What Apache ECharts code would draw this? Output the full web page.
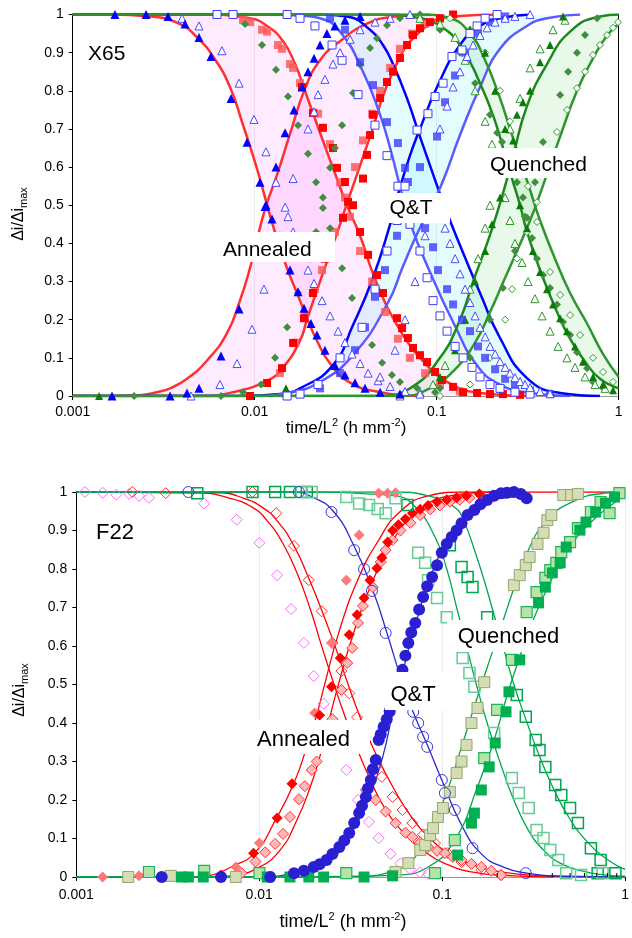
<!DOCTYPE html>
<html>
<head>
<meta charset="utf-8">
<script src="https://cdn.jsdelivr.net/npm/echarts@6/dist/echarts.min.js"></script>
<style>
  html, body { margin: 0; padding: 0; background: #ffffff; }
  #chart { width: 632px; height: 938px; }
</style>
</head>
<body>
<div id="chart"></div>
<script>
// All series points are [log10(time/L^2), Δi/Δimax]; they are mapped onto log axes below.

const tickLabels = ['0.001', '0.01', '0.1', '1'];
const f22MinorTicks = [0.2, 0.3, 0.4, 0.5, 0.6, 0.7, 0.8, 0.9];

// ---------- X65 : fitted transients ----------
const x65AnnealedDecayFast = [[-3,1],[-2.795,1],[-2.575,0.995],[-2.41,0.975],[-2.317,0.94],[-2.229,0.89],[-2.136,0.81],[-2.064,0.71],[-2.026,0.655],[-1.987,0.595],[-1.943,0.52],[-1.905,0.455],[-1.861,0.39],[-1.822,0.335],[-1.751,0.25],[-1.713,0.205],[-1.663,0.15],[-1.586,0.085],[-1.476,0.035],[-1.311,0.01],[-1.092,0]];
const x65AnnealedDecaySlow = [[-3,1],[-2.301,1],[-2.026,0.99],[-1.932,0.97],[-1.844,0.93],[-1.778,0.87],[-1.724,0.8],[-1.641,0.69],[-1.564,0.59],[-1.493,0.5],[-1.421,0.42],[-1.35,0.32],[-1.284,0.245],[-1.218,0.186],[-1.158,0.14],[-1.092,0.1],[-0.943,0.037],[-0.762,0.008],[-0.487,0]];
const x65AnnealedRiseFast = [[-3,0],[-2.795,0],[-2.63,0.002],[-2.537,0.01],[-2.465,0.02],[-2.372,0.045],[-2.262,0.093],[-2.152,0.165],[-2.081,0.25],[-2.026,0.335],[-1.987,0.41],[-1.943,0.49],[-1.877,0.58],[-1.806,0.687],[-1.724,0.805],[-1.641,0.88],[-1.531,0.93],[-1.383,0.976],[-1.24,0.994],[-1.037,1]];
const x65AnnealedRiseSlow = [[-3,0],[-2.301,0],[-2.119,0.01],[-1.932,0.04],[-1.844,0.075],[-1.751,0.145],[-1.713,0.2],[-1.658,0.277],[-1.586,0.375],[-1.531,0.45],[-1.493,0.505],[-1.46,0.55],[-1.366,0.68],[-1.24,0.85],[-1.092,0.955],[-0.91,0.995],[-0.652,1]];

const x65QTDecayFast = [[-3,1],[-1.916,1],[-1.751,0.997],[-1.641,0.99],[-1.531,0.955],[-1.405,0.85],[-1.311,0.737],[-1.256,0.65],[-1.202,0.55],[-1.147,0.455],[-1.037,0.325],[-0.91,0.194],[-0.778,0.08],[-0.652,0.03],[-0.487,0.008],[-0.267,0]];
const x65QTDecaySlow = [[-3,1],[-1.641,1],[-1.493,0.995],[-1.366,0.96],[-1.295,0.92],[-1.24,0.87],[-1.163,0.78],[-1.092,0.68],[-0.982,0.53],[-0.927,0.46],[-0.833,0.35],[-0.762,0.27],[-0.652,0.152],[-0.504,0.047],[-0.322,0.008],[-0.103,0]];
const x65QTRiseFast = [[-3,0],[-2.081,0],[-1.861,0.005],[-1.751,0.02],[-1.57,0.081],[-1.46,0.186],[-1.35,0.31],[-1.256,0.45],[-1.218,0.52],[-1.147,0.63],[-1.092,0.7],[-0.998,0.81],[-0.872,0.92],[-0.762,0.97],[-0.652,0.99],[-0.487,1]];
const x65QTRiseSlow = [[-3,0],[-2.026,0],[-1.806,0.01],[-1.641,0.037],[-1.46,0.107],[-1.273,0.24],[-1.185,0.34],[-1.103,0.43],[-1.026,0.5],[-0.96,0.57],[-0.872,0.684],[-0.762,0.81],[-0.652,0.91],[-0.504,0.97],[-0.394,0.99],[-0.212,1]];

const x65QuenchedDecayFast = [[-3,1],[-1.311,1],[-1.092,0.99],[-0.982,0.97],[-0.872,0.92],[-0.762,0.82],[-0.679,0.72],[-0.624,0.63],[-0.58,0.56],[-0.542,0.5],[-0.504,0.43],[-0.432,0.33],[-0.339,0.22],[-0.267,0.15],[-0.185,0.09],[-0.103,0.045],[0,0.02]];
const x65QuenchedDecaySlow = [[-3,1],[-1.092,1],[-0.927,0.99],[-0.817,0.95],[-0.734,0.88],[-0.652,0.78],[-0.597,0.7],[-0.542,0.62],[-0.487,0.54],[-0.432,0.46],[-0.35,0.36],[-0.267,0.27],[-0.174,0.19],[-0.086,0.11],[0,0.05]];
const x65QuenchedRiseFast = [[-3,0],[-1.311,0],[-1.147,0.02],[-0.982,0.1],[-0.872,0.2],[-0.8,0.3],[-0.723,0.4],[-0.668,0.48],[-0.613,0.57],[-0.58,0.63],[-0.504,0.76],[-0.394,0.87],[-0.267,0.955],[-0.103,0.995],[0,1]];
const x65QuenchedRiseSlow = [[-3,0],[-1.202,0],[-1.037,0.02],[-0.899,0.07],[-0.789,0.14],[-0.707,0.22],[-0.624,0.31],[-0.559,0.38],[-0.487,0.46],[-0.432,0.53],[-0.377,0.605],[-0.322,0.68],[-0.229,0.8],[-0.141,0.885],[-0.064,0.945],[0,0.975]];

// ---------- X65 : measured transients ----------
const x65RedSquares = [[-1.74,0.81],[-1.68,0.742],[-1.625,0.703],[-1.57,0.65],[-1.548,0.598],[-1.504,0.561],[-1.487,0.509],[-1.421,0.43],[-1.377,0.37],[-1.328,0.317],[-1.295,0.27],[-1.218,0.204],[-1.19,0.178],[-1.158,0.152],[-1.13,0.126],[-1.092,0.107],[-1.053,0.089],[-1.009,0.063],[-0.971,0.042],[-0.91,0.024],[-0.855,0.01],[-0.778,0.008],[-0.707,0.005],[-0.636,0.005],[-0.542,0.003],
  [-2.026,0],[-1.932,0.034],[-1.85,0.073],[-1.789,0.139],[-1.729,0.204],[-1.68,0.27],[-1.614,0.36],[-1.515,0.467],[-1.46,0.5],[-1.405,0.57],[-1.383,0.632],[-1.366,0.684],[-1.35,0.737],[-1.311,0.781],[-1.273,0.823],[-1.24,0.85],[-1.202,0.886],[-1.163,0.92],[-1.13,0.946],[-1.092,0.964],[-1.037,0.98],[-0.982,0.99],[-0.91,1]];
const x65LightRedSquares = [[-2.064,0.985],[-2.026,0.98],[-1.96,0.96],[-1.932,0.955],[-1.872,0.92],[-1.85,0.91],[-1.806,0.87],[-1.789,0.86],[-1.751,0.82],[-1.652,0.74],[-1.586,0.66],[-1.531,0.56],[-1.476,0.47],[-1.421,0.38],[-1.355,0.3],[-1.284,0.22],[-1.213,0.15],[-1.147,0.1],[-1.064,0.06],[-0.982,0.03],[-0.872,0.012],[-0.707,0.005],
  [-1.861,0.06],[-1.778,0.14],[-1.724,0.21],[-1.669,0.28],[-1.63,0.33],[-1.559,0.43],[-1.504,0.52],[-1.449,0.6],[-1.405,0.67],[-1.355,0.74],[-1.311,0.8],[-1.256,0.86],[-1.202,0.91],[-1.136,0.95],[-1.064,0.975],[-0.982,0.99]];
const x65BlueTriangles = [[-2.768,1],[-2.597,1],[-2.476,0.995],[-2.383,0.975],[-2.306,0.94],[-2.24,0.89],[-2.13,0.78],[-2.042,0.665],[-1.971,0.56],[-1.938,0.5],[-1.905,0.464],[-1.806,0.33],[-1.762,0.273],[-1.729,0.23],[-1.691,0.19],[-1.658,0.16],[-1.614,0.12],[-1.559,0.08],[-1.504,0.055],[-1.449,0.035],[-1.394,0.02],[-1.311,0.01],[-1.202,0.005],
  [-2.784,0],[-2.465,0],[-2.372,0.008],[-2.306,0.02],[-2.185,0.105],[-2.086,0.228],[-1.943,0.497],[-1.883,0.6],[-1.833,0.69],[-1.784,0.75],[-1.74,0.81],[-1.707,0.85],[-1.674,0.885],[-1.641,0.92],[-1.603,0.95],[-1.559,0.97],[-1.504,0.985],[-1.421,0.995]];
const x65BlueOpenTriangles = [[-2.399,0.99],[-2.306,0.97],[-2.18,0.905],[-2.086,0.82],[-2.004,0.725],[-1.938,0.64],[-1.883,0.56],[-1.833,0.495],[-1.817,0.47],[-1.789,0.43],[-1.751,0.37],[-1.707,0.33],[-1.674,0.295],[-1.63,0.25],[-1.586,0.21],[-1.542,0.17],[-1.504,0.14],[-1.465,0.11],[-1.421,0.085],[-1.377,0.06],[-1.322,0.04],[-1.256,0.025],[-1.174,0.012],[-1.092,0.005],
  [-2.35,0],[-2.191,0.03],[-2.097,0.085],[-2.015,0.175],[-1.949,0.28],[-1.861,0.42],[-1.789,0.57],[-1.707,0.7],[-1.674,0.745],[-1.652,0.79],[-1.614,0.83],[-1.57,0.87],[-1.531,0.9],[-1.476,0.935],[-1.421,0.96],[-1.339,0.98],[-1.256,0.99],[-1.147,1],
  [-0.982,0.5],[-0.954,0.44],[-0.927,0.4],[-0.899,0.36],[-0.872,0.32],[-0.844,0.28],[-0.817,0.245],[-0.789,0.21],[-0.762,0.18],[-0.734,0.155],[-0.707,0.13],[-0.679,0.11],[-0.652,0.09],[-0.624,0.075],[-0.597,0.06],[-0.57,0.048],[-0.542,0.038],[-0.515,0.03],[-0.487,0.022],[-0.432,0.012],[-0.377,0.006],
  [-1.311,0.05],[-1.229,0.12],[-1.174,0.2],[-1.119,0.3],[-1.064,0.42],[-1.026,0.52],[-0.982,0.7],[-0.943,0.76],[-0.91,0.81],[-0.872,0.85],[-0.833,0.89],[-0.8,0.92],[-0.762,0.945],[-0.723,0.965],[-0.679,0.98],[-0.624,0.99],[-0.57,0.995],[-0.487,1]];
const x65BlueOpenSquares = [[-2.207,1],[-2.119,1],[-1.822,1],[-1.751,0.99],[-1.669,0.97],[-1.575,0.92],[-1.52,0.88],[-1.432,0.79],[-1.339,0.71],[-1.273,0.63],[-1.213,0.55],[-1.147,0.45],[-1.092,0.38],[-1.053,0.31],[-1.02,0.25],[-0.982,0.21],[-0.943,0.17],[-0.899,0.13],[-0.855,0.1],[-0.806,0.075],[-0.762,0.05],[-0.707,0.03],[-0.652,0.02],[-0.57,0.01],[-0.487,0.005],
  [-1.822,0],[-1.751,0.005],[-1.652,0.03],[-1.531,0.1],[-1.41,0.18],[-1.339,0.28],[-1.273,0.38],[-1.218,0.46],[-1.174,0.55],[-1.108,0.697],[-1.048,0.74],[-1.009,0.785],[-0.965,0.82],[-0.916,0.89],[-0.861,0.907],[-0.817,0.95],[-0.778,0.97],[-0.734,0.99],[-0.668,1]];
const x65BlueSquares = [[-1.586,0.99],[-1.504,0.96],[-1.421,0.875],[-1.35,0.815],[-1.273,0.718],[-1.213,0.663],[-1.174,0.598],[-1.158,0.561],[-1.064,0.44],[-1.02,0.39],[-0.993,0.33],[-0.943,0.28],[-0.91,0.24],[-0.861,0.2],[-0.817,0.17],[-0.773,0.13],[-0.734,0.1],[-0.679,0.07],[-0.624,0.045],[-0.57,0.03],[-0.487,0.015],[-0.377,0.005],
  [-1.751,0.005],[-1.641,0.02],[-1.531,0.06],[-1.449,0.12],[-1.394,0.18],[-1.339,0.26],[-1.284,0.33],[-1.218,0.42],[-1.147,0.52],[-1.092,0.6],[-0.998,0.68],[-0.954,0.77],[-0.899,0.84],[-0.844,0.9],[-0.773,0.95],[-0.707,0.98],[-0.624,0.995]];
const x65GreenDiamonds = [[-2.053,0.975],[-1.96,0.92],[-1.883,0.855],[-1.817,0.785],[-1.762,0.71],[-1.707,0.635],[-1.663,0.56],[-1.625,0.493],[-1.586,0.44],[-1.52,0.335],[-1.465,0.257],[-1.405,0.18],[-1.355,0.134],[-1.3,0.087],[-1.246,0.055],[-1.202,0.037],[-1.108,0.021],[-1.009,0.01],
  [-2.663,0],[-2.185,0],[-2.064,0.01],[-1.965,0.03],[-1.888,0.1],[-1.822,0.18],[-1.762,0.27],[-1.696,0.36],[-1.663,0.43],[-1.625,0.52],[-1.586,0.598],[-1.559,0.65],[-1.52,0.71],[-1.46,0.794],[-1.421,0.868],[-1.366,0.912],[-1.328,0.938],[-1.273,0.972],[-1.202,0.99],[-1.092,1],
  [-1.092,0.99],[-0.982,0.96],[-0.872,0.9],[-0.789,0.82],[-0.707,0.737],[-0.668,0.69],[-0.641,0.666],[-0.559,0.56],[-0.526,0.52],[-0.504,0.467],[-0.476,0.414],[-0.449,0.36],[-0.416,0.317],[-0.377,0.283],[-0.339,0.24],[-0.306,0.194],[-0.267,0.16],[-0.229,0.115],[-0.174,0.073],[-0.141,0.037],[-0.086,0.021],
  [-0.982,0.02],[-0.817,0.1],[-0.707,0.2],[-0.636,0.283],[-0.57,0.38],[-0.515,0.47],[-0.46,0.56],[-0.416,0.666],[-0.322,0.789],[-0.278,0.85],[-0.229,0.9],[-0.185,0.946],[-0.119,0.99]];
const x65GreenOpenDiamonds = [[-0.982,0],[-0.817,0.03],[-0.707,0.1],[-0.624,0.2],[-0.586,0.28],[-0.559,0.36],[-0.504,0.43],[-0.449,0.508],[-0.394,0.6],[-0.339,0.692],[-0.284,0.75],[-0.229,0.807],[-0.185,0.85],[-0.141,0.894],[-0.103,0.92],[-0.064,0.946],[-0.031,0.965],[-0.004,0.98],
  [-0.927,0.99],[-0.817,0.96],[-0.734,0.9],[-0.652,0.8],[-0.597,0.72],[-0.542,0.63],[-0.498,0.55],[-0.449,0.456],[-0.377,0.325],[-0.322,0.265],[-0.267,0.212],[-0.212,0.16],[-0.141,0.1],[-0.086,0.063],[-0.031,0.037]];
const x65GreenOpenTriangles = [[-1.092,0.99],[-0.982,0.975],[-0.899,0.94],[-0.844,0.88],[-0.789,0.8],[-0.734,0.72],[-0.696,0.66],[-0.652,0.6],[-0.624,0.52],[-0.597,0.46],[-0.57,0.4],[-0.531,0.35],[-0.498,0.3],[-0.46,0.255],[-0.421,0.21],[-0.377,0.17],[-0.333,0.13],[-0.284,0.1],[-0.24,0.075],[-0.185,0.05],[-0.13,0.03],[-0.075,0.02],
  [-1.202,0],[-1.092,0.01],[-1.02,0.03],[-0.954,0.08],[-0.899,0.13],[-0.861,0.2],[-0.817,0.28],[-0.773,0.36],[-0.734,0.44],[-0.707,0.5],[-0.652,0.6],[-0.597,0.7],[-0.542,0.78],[-0.487,0.86],[-0.432,0.91],[-0.361,0.96],[-0.295,0.985]];
const x65GreenTriangles = [[-2.855,0],[-1.828,0.02],[-0.982,0.05],[-0.899,0.12],[-0.844,0.2],[-0.789,0.3],[-0.734,0.38],[-0.696,0.45],[-0.652,0.52],[-0.608,0.6],[-0.58,0.67],[-0.559,0.737],[-0.526,0.77],[-0.487,0.8],[-0.432,0.875],[-0.377,0.92],[-0.306,0.995],
  [-0.817,0.96],[-0.734,0.9],[-0.679,0.8],[-0.624,0.7],[-0.586,0.6],[-0.542,0.5],[-0.504,0.44],[-0.471,0.38],[-0.432,0.325],[-0.394,0.28],[-0.361,0.24],[-0.322,0.204],[-0.284,0.17],[-0.24,0.13],[-0.196,0.09],[-0.141,0.05],[-0.086,0.03],[-0.031,0.015]];

// ---------- F22 : fitted transients ----------
const f22AnnealedDecayFast = [[-3,1],[-2.333,0.998],[-2.171,0.985],[-2.037,0.96],[-1.956,0.925],[-1.875,0.87],[-1.794,0.79],[-1.724,0.7],[-1.659,0.6],[-1.605,0.52],[-1.541,0.43],[-1.471,0.34],[-1.39,0.25],[-1.309,0.175],[-1.201,0.11],[-1.093,0.065],[-0.985,0.035],[-0.824,0.012],[-0.608,0.003],[-0.392,0]];
const f22AnnealedDecaySlow = [[-3,1],[-2.225,0.998],[-2.091,0.985],[-1.983,0.96],[-1.902,0.925],[-1.81,0.86],[-1.724,0.77],[-1.648,0.68],[-1.578,0.59],[-1.514,0.5],[-1.444,0.41],[-1.363,0.32],[-1.271,0.235],[-1.174,0.16],[-1.066,0.1],[-0.958,0.06],[-0.824,0.03],[-0.662,0.012],[-0.446,0.003],[-0.177,0]];
const f22AnnealedRiseFast = [[-3,0],[-2.387,0],[-2.263,0.005],[-2.155,0.026],[-2.026,0.062],[-1.902,0.156],[-1.81,0.244],[-1.74,0.338],[-1.686,0.42],[-1.648,0.49],[-1.562,0.64],[-1.454,0.78],[-1.347,0.875],[-1.239,0.945],[-1.077,0.99],[-0.878,1],[0,1]];
const f22AnnealedRiseSlow = [[-3,0],[-2.279,0],[-2.155,0.003],[-2.01,0.023],[-1.886,0.07],[-1.794,0.148],[-1.724,0.23],[-1.67,0.31],[-1.622,0.4],[-1.573,0.49],[-1.487,0.63],[-1.379,0.77],[-1.255,0.885],[-1.12,0.955],[-0.958,0.99],[-0.716,1]];
const f22QTDecay = [[-3,1],[-1.81,1],[-1.702,0.985],[-1.595,0.95],[-1.487,0.865],[-1.379,0.745],[-1.293,0.62],[-1.228,0.52],[-1.163,0.434],[-1.077,0.338],[-1.002,0.252],[-0.894,0.135],[-0.786,0.06],[-0.662,0.025],[-0.538,0.01],[-0.338,0.002],[0,0]];
const f22QTRise = [[-3,0],[-2.01,0],[-1.81,0.01],[-1.632,0.036],[-1.487,0.122],[-1.4,0.208],[-1.325,0.312],[-1.271,0.426],[-1.217,0.53],[-1.147,0.655],[-1.039,0.81],[-0.931,0.9],[-0.807,0.96],[-0.662,0.985],[-0.527,0.99]];
const f22QuenchedDecayFast = [[-3,1],[-1.632,1],[-1.417,0.995],[-1.255,0.99],[-1.147,0.961],[-1.039,0.883],[-0.975,0.8],[-0.921,0.7],[-0.867,0.6],[-0.813,0.5],[-0.754,0.4],[-0.678,0.29],[-0.608,0.2],[-0.527,0.12],[-0.446,0.07],[-0.355,0.036],[-0.231,0.015],[-0.107,0.005],[0,0.002]];
const f22QuenchedDecaySlow = [[-3,1],[-1.255,1],[-1.077,0.99],[-0.931,0.96],[-0.878,0.92],[-0.824,0.85],[-0.77,0.77],[-0.716,0.68],[-0.662,0.59],[-0.608,0.5],[-0.543,0.41],[-0.473,0.32],[-0.392,0.23],[-0.301,0.15],[-0.204,0.09],[-0.096,0.045],[0,0.02]];
const f22QuenchedRiseFast = [[-3,0],[-1.794,0],[-1.471,0.002],[-1.255,0.018],[-1.109,0.078],[-0.985,0.208],[-0.894,0.338],[-0.807,0.468],[-0.743,0.56],[-0.678,0.65],[-0.608,0.75],[-0.538,0.84],[-0.43,0.925],[-0.285,0.975],[-0.107,0.997],[0,1]];
const f22QuenchedRiseSlow = [[-3,0],[-1.632,0],[-1.255,0.005],[-1.077,0.026],[-0.931,0.096],[-0.807,0.234],[-0.716,0.356],[-0.646,0.47],[-0.57,0.58],[-0.5,0.67],[-0.43,0.745],[-0.322,0.842],[-0.193,0.919],[-0.015,0.987],[0,0.99]];

// ---------- F22 : measured transients ----------
const f22PinkOpenDiamonds = [[-2.953,1],[-2.856,0.998],[-2.781,0.993],[-2.711,0.995],[-2.657,0.99],[-2.603,0.985],[-2.301,0.97],[-2.123,0.928],[-1.999,0.868],[-1.902,0.784],[-1.826,0.696],[-1.756,0.608],[-1.702,0.522],[-1.648,0.45],[-1.589,0.36],[-1.524,0.278],[-1.46,0.2],[-1.4,0.143],[-1.347,0.101],[-1.282,0.06],[-1.228,0.035],[-1.174,0.02],[-1.12,0.012],[-1.077,0.008]];
const f22SalmonDiamonds = [[-2.856,0],[-2.657,0.003],[-2.128,0.026],[-1.999,0.088],[-1.697,0.426],[-1.605,0.608],[-1.524,0.771],[-1.454,0.888],[-1.347,0.997],[-1.298,0.997],[-1.255,0.998]];
const f22RedDiamonds = [[-2.209,0.005],[-2.031,0.062],[-1.902,0.153],[-1.821,0.242],[-1.67,0.42],[-1.605,0.494],[-1.557,0.569],[-1.508,0.629],[-1.465,0.681],[-1.427,0.725],[-1.395,0.771],[-1.357,0.802],[-1.33,0.829],[-1.298,0.87],[-1.271,0.9],[-1.239,0.915],[-1.201,0.93],[-1.163,0.945],[-1.12,0.955],[-1.077,0.965],[-1.028,0.975],[-0.975,0.98],[-0.921,0.985],[-0.867,0.99],[-0.797,0.995]];
const f22RedOpenDiamonds = [[-2.694,1],[-2.511,0.997],[-2.037,1],[-1.907,0.945],[-1.81,0.86],[-1.729,0.771],[-1.659,0.69],[-1.6,0.608],[-1.551,0.535],[-1.508,0.477],[-1.465,0.415],[-1.363,0.286],[-1.33,0.26],[-1.271,0.208],[-1.217,0.174],[-1.163,0.14],[-1.104,0.11],[-1.039,0.088],[-0.969,0.062],[-0.894,0.039],[-0.786,0.018],[-0.678,0.005]];
const f22RedHatchedDiamonds = [[-2.096,0.01],[-2.02,0.04],[-1.967,0.064],[-1.913,0.086],[-1.87,0.112],[-1.832,0.156],[-1.783,0.202],[-1.751,0.236],[-1.713,0.278],[-1.686,0.3],[-1.6,0.41],[-1.551,0.486],[-1.519,0.556],[-1.492,0.595],[-1.46,0.66],[-1.433,0.704],[-1.379,0.753],[-1.336,0.818],[-1.309,0.849],[-1.271,0.875],[-1.228,0.9],[-1.174,0.92],[-1.12,0.94],[-1.066,0.955],[-1.012,0.965],[-0.958,0.975],[-0.904,0.98],[-0.851,0.985],[-0.786,0.99],
  [-1.417,0.226],[-1.363,0.2],[-1.309,0.17],[-1.255,0.14],[-1.201,0.115],[-1.163,0.104],[-1.12,0.09],[-1.077,0.078],[-1.028,0.068],[-0.985,0.062],[-0.942,0.052],[-0.894,0.044],[-0.84,0.034],[-0.786,0.026],[-0.732,0.016],[-0.678,0.005]];
const f22BlueCircles = [[-2.533,0],[-2.209,0],[-1.94,0],[-1.81,0.01],[-1.756,0.016],[-1.702,0.026],[-1.67,0.033],[-1.632,0.044],[-1.6,0.06],[-1.562,0.078],[-1.535,0.095],[-1.508,0.114],[-1.481,0.14],[-1.454,0.166],[-1.438,0.185],[-1.417,0.208],[-1.406,0.23],[-1.39,0.252],[-1.379,0.28],[-1.363,0.304],[-1.347,0.356],[-1.336,0.37],[-1.32,0.39],[-1.303,0.41],[-1.287,0.43],[-1.217,0.538],[-1.201,0.575],[-1.185,0.608],[-1.169,0.635],[-1.147,0.66],[-1.126,0.695],[-1.104,0.727],[-1.082,0.755],[-1.055,0.779],[-1.028,0.81],[-1.002,0.842],[-0.975,0.865],[-0.948,0.883],[-0.921,0.9],[-0.894,0.919],[-0.861,0.94],[-0.824,0.953],[-0.791,0.968],[-0.754,0.979],[-0.716,0.99],[-0.678,0.997],[-0.646,0.998],[-0.608,1],[-0.57,0.995],[-0.538,0.984]];
const f22BlueOpenCircles = [[-2.387,1],[-1.783,1],[-1.605,0.948],[-1.481,0.849],[-1.427,0.8],[-1.384,0.743],[-1.309,0.634],[-1.158,0.429],[-1.131,0.4],[-1.104,0.364],[-1.082,0.338],[-1.002,0.252],[-0.985,0.218],[-0.931,0.174],[-0.834,0.075],[-0.543,0.01]];
const f22GreenOpenSquares = [[-2.339,0.997],[-2.037,1],[-1.913,1],[-1.832,1],[-1.74,1],[-1.19,0.966],[-0.958,0.862],[-0.894,0.805],[-0.861,0.779],[-0.834,0.753],[-0.754,0.675],[-0.592,0.473],[-0.543,0.416],[-0.489,0.356],[-0.468,0.33],[-0.436,0.286],[-0.382,0.239],[-0.349,0.213],[-0.301,0.179],[-0.258,0.14],[-0.187,0.075],[-0.134,0.044],[-0.15,0.01],[-0.053,0.01]];
const f22LightGreenOpenSquares = [[-1.767,1],[-1.713,1],[-1.524,0.987],[-1.454,0.97],[-1.4,0.966],[-1.352,0.956],[-1.309,0.945],[-1.255,0.984],[-1.131,0.842],[-1.093,0.816],[-1.077,0.771],[-1.028,0.725],[-0.975,0.675],[-0.888,0.569],[-0.851,0.53],[-0.824,0.494],[-0.716,0.374],[-0.619,0.257],[-0.581,0.218],[-0.527,0.179],[-0.484,0.122],[-0.446,0.101],[-0.409,0.07],[-0.365,0.044],[-0.322,0.01],[-0.241,0.005],[-0.123,0.01]];
const f22OliveSquares = [[-2.716,0],[-2.484,0.003],[-2.128,0],[-1.255,0.013],[-1.185,0.036],[-1.12,0.07],[-1.093,0.083],[-1.066,0.109],[-1.05,0.127],[-1.023,0.156],[-0.996,0.179],[-0.958,0.221],[-0.921,0.27],[-0.894,0.3],[-0.867,0.343],[-0.84,0.4],[-0.807,0.439],[-0.77,0.506],[-0.608,0.758],[-0.576,0.784],[-0.543,0.81],[-0.522,0.831],[-0.479,0.865],[-0.446,0.894],[-0.425,0.927],[-0.403,0.94],[-0.338,0.992],[-0.295,0.992],[-0.258,0.995]];
const f22GreenHatchedSquares = [[-2.603,0.013],[-2.301,0.016],[-1.999,0.01],[-1.524,0.01],[-1.039,0.01],[-0.931,0.096],[-0.77,0.309],[-0.7,0.434],[-0.619,0.564],[-0.538,0.688],[-0.484,0.74],[-0.436,0.777],[-0.409,0.797],[-0.376,0.816],[-0.349,0.844],[-0.301,0.87],[-0.258,0.906],[-0.187,0.948],[-0.134,0.974],[-0.085,0.945],[-0.031,0.997]];
const f22GreenSquares = [[-2.425,0],[-2.387,0],[-2.306,0],[-1.956,0],[-1.832,0],[-1.729,0],[-1.648,0],[-1.427,0],[-1.271,0.003],[-0.915,0.057],[-0.84,0.14],[-0.824,0.166],[-0.786,0.226],[-0.743,0.286],[-0.71,0.348],[-0.651,0.429],[-0.635,0.481],[-0.576,0.564],[-0.473,0.712],[-0.436,0.753],[-0.398,0.79],[-0.355,0.816],[-0.322,0.857],[-0.247,0.901],[-0.214,0.922],[-0.161,0.948],[-0.107,0.971],[-0.058,0.987]];

// ---------- rendering ----------
const FONT = "'Liberation Sans', Arial, Helvetica, sans-serif";
const toTime = arr => arr.map(p => [Math.pow(10, p[0]), p[1]]);

const TOP = { x: 0, y: 0 };      // axis indices of the X65 panel
const BOT = { x: 2, y: 2 };      // axis indices of the F22 panel

function curve(panel, pts, color, width) {
  return {
    type: 'line', xAxisIndex: panel.x, yAxisIndex: panel.y,
    data: toTime(pts), showSymbol: false, smooth: 0.5,
    lineStyle: { color: color, width: width }, silent: true, z: 3
  };
}

function band(panel, a, b, color) {
  const pa = toTime(a), pb = toTime(b).reverse();
  return {
    type: 'custom', xAxisIndex: panel.x, yAxisIndex: panel.y,
    data: [pa[0]], silent: true, clip: true, z: 1,
    renderItem: function (params, api) {
      const pts = pa.concat(pb).map(p => api.coord(p));
      return { type: 'polygon', shape: { points: pts }, style: { fill: color } };
    }
  };
}

function marks(panel, pts, symbol, size, fill, stroke, strokeWidth) {
  return {
    type: 'scatter', xAxisIndex: panel.x, yAxisIndex: panel.y,
    data: toTime(pts), symbol: symbol, symbolSize: size, silent: true, z: 4,
    itemStyle: { color: fill, borderColor: stroke || fill, borderWidth: strokeWidth || 0, opacity: 1 }
  };
}

// small inward ticks on the last decade of the F22 time axis
function minorTicks(panel, values) {
  return {
    type: 'custom', xAxisIndex: panel.x, yAxisIndex: panel.y,
    data: values.map(v => [v, 0]), silent: true, clip: false, z: 6,
    renderItem: function (params, api) {
      const c = api.coord([api.value(0), 0]);
      return { type: 'line', shape: { x1: c[0], y1: c[1], x2: c[0], y2: c[1] - 4 }, style: { stroke: '#000', lineWidth: 1 } };
    }
  };
}

const logLabel = v => tickLabels[Math.round(Math.log10(v)) + 3];
const yLabel = v => (v === 0 ? '0' : v === 1 ? '1' : v.toFixed(1));

function mainX(grid, margin) {
  return {
    gridIndex: grid, type: 'log', logBase: 10, min: 0.001, max: 1, position: 'bottom',
    axisLine: { show: true, onZero: false, lineStyle: { color: '#000', width: 1 } },
    axisTick: { show: true, length: 4, lineStyle: { color: '#000' } },
    axisLabel: { formatter: logLabel, fontFamily: FONT, fontSize: 14, color: '#000', margin: margin },
    splitLine: { show: true, lineStyle: { color: '#ececec', width: 1 } }
  };
}
function frameX(grid) {
  return {
    gridIndex: grid, type: 'log', logBase: 10, min: 0.001, max: 1, position: 'top',
    axisLine: { show: true, lineStyle: { color: '#9a9a9a', width: 1 } },
    axisTick: { show: false }, axisLabel: { show: false }, splitLine: { show: false }
  };
}
function mainY(grid) {
  return {
    gridIndex: grid, type: 'value', min: 0, max: 1, interval: 0.1,
    axisLine: { show: true, onZero: false, lineStyle: { color: '#000', width: 1 } },
    axisTick: { show: true, length: 4, lineStyle: { color: '#000' } },
    axisLabel: { formatter: yLabel, fontFamily: FONT, fontSize: 14, color: '#000', margin: 9 },
    splitLine: { show: false }
  };
}

const series = [
  // X65 shaded ranges
  band(TOP, x65AnnealedDecayFast, x65AnnealedDecaySlow, 'rgba(255,0,255,0.08)'),
  band(TOP, x65AnnealedRiseFast, x65AnnealedRiseSlow, 'rgba(255,0,255,0.08)'),
  band(TOP, x65QTDecayFast, x65QTDecaySlow, 'rgba(0,230,255,0.10)'),
  band(TOP, x65QTRiseFast, x65QTRiseSlow, 'rgba(0,230,255,0.10)'),
  band(TOP, x65QuenchedDecayFast, x65QuenchedDecaySlow, 'rgba(40,200,40,0.10)'),
  band(TOP, x65QuenchedRiseFast, x65QuenchedRiseSlow, 'rgba(40,200,40,0.10)'),
  // X65 fitted curves
  curve(TOP, x65AnnealedDecayFast, '#ff3030', 2.5),
  curve(TOP, x65AnnealedDecaySlow, '#ff3030', 2.5),
  curve(TOP, x65AnnealedRiseFast, '#ff3030', 2.5),
  curve(TOP, x65AnnealedRiseSlow, '#ff3030', 2.5),
  curve(TOP, x65QTDecayFast, '#5a5aff', 2.5),
  curve(TOP, x65QTDecaySlow, '#0000ff', 2.5),
  curve(TOP, x65QTRiseFast, '#0000ff', 2.5),
  curve(TOP, x65QTRiseSlow, '#5a5aff', 2.5),
  curve(TOP, x65QuenchedDecayFast, '#1a8a1a', 2.5),
  curve(TOP, x65QuenchedDecaySlow, '#2e962e', 2.5),
  curve(TOP, x65QuenchedRiseFast, '#1a8a1a', 2.5),
  curve(TOP, x65QuenchedRiseSlow, '#2e962e', 2.5),
  // X65 measurements
  marks(TOP, x65LightRedSquares, 'rect', 8, 'rgba(255,90,90,0.85)'),
  marks(TOP, x65RedSquares, 'rect', 8, '#ff0000'),
  marks(TOP, x65GreenDiamonds, 'diamond', 8, '#3f8f3f'),
  marks(TOP, x65GreenOpenDiamonds, 'diamond', 7, '#ffffff', '#2e9a2e', 1),
  marks(TOP, x65GreenOpenTriangles, 'triangle', 8, '#ffffff', '#2a9a2a', 1),
  marks(TOP, x65GreenTriangles, 'triangle', 8, '#0a7a0a'),
  marks(TOP, x65BlueSquares, 'rect', 8, 'rgba(60,60,255,0.8)'),
  marks(TOP, x65BlueOpenSquares, 'rect', 8, '#ffffff', '#3c3cff', 1),
  marks(TOP, x65BlueOpenTriangles, 'triangle', 8, '#ffffff', '#4b4bff', 1),
  marks(TOP, x65BlueTriangles, 'triangle', 9, '#0000ff'),
  // F22 fitted curves
  curve(BOT, f22AnnealedDecayFast, '#ff0000', 1.3),
  curve(BOT, f22AnnealedDecaySlow, '#ff0000', 1.3),
  curve(BOT, f22AnnealedRiseFast, '#ff0000', 1.3),
  curve(BOT, f22AnnealedRiseSlow, '#ff0000', 1.3),
  curve(BOT, f22QTDecay, '#2b2bcc', 1.3),
  curve(BOT, f22QTRise, '#2b2bcc', 1.3),
  curve(BOT, f22QuenchedDecayFast, '#00a650', 1.3),
  curve(BOT, f22QuenchedDecaySlow, '#00a650', 1.3),
  curve(BOT, f22QuenchedRiseFast, '#00a650', 1.3),
  curve(BOT, f22QuenchedRiseSlow, '#00a650', 1.3),
  // F22 measurements
  marks(BOT, f22PinkOpenDiamonds, 'diamond', 11, 'rgba(255,255,255,0)', '#ff66ff', 1),
  marks(BOT, f22RedOpenDiamonds, 'diamond', 11, 'rgba(255,255,255,0)', '#ff3030', 1),
  marks(BOT, f22RedHatchedDiamonds, 'diamond', 11, '#ffb8b8', '#ff3030', 1),
  marks(BOT, f22SalmonDiamonds, 'diamond', 11, '#ff7878'),
  marks(BOT, f22RedDiamonds, 'diamond', 11, '#ff0000'),
  marks(BOT, f22GreenOpenSquares, 'rect', 11, 'rgba(255,255,255,0)', '#00a550', 1.5),
  marks(BOT, f22LightGreenOpenSquares, 'rect', 11, 'rgba(255,255,255,0)', '#66cc96', 1.5),
  marks(BOT, f22OliveSquares, 'rect', 11, '#d4ddb6', '#95a66b', 1),
  marks(BOT, f22GreenHatchedSquares, 'rect', 11, '#b6e3a8', '#22b25a', 1.2),
  marks(BOT, f22GreenSquares, 'rect', 11, '#00b050'),
  marks(BOT, f22BlueOpenCircles, 'circle', 11, 'rgba(255,255,255,0)', '#3b3bd6', 1),
  marks(BOT, f22BlueCircles, 'circle', 12, '#2a20d2'),
  minorTicks(BOT, f22MinorTicks)
];

function textEl(x, y, str, size, align) {
  return {
    type: 'text', z: 101, silent: true,
    style: {
      x: x, y: y, text: str, fill: '#000', font: size + 'px ' + FONT,
      textAlign: align, align: align, textVerticalAlign: 'middle', verticalAlign: 'middle'
    }
  };
}
function box(x, y, w, h) {
  return { type: 'rect', z: 100, silent: true, shape: { x: x, y: y, width: w, height: h }, style: { fill: '#ffffff' } };
}
function yTitle(cx, cy) {
  return {
    type: 'text', z: 101, silent: true, x: cx, y: cy, rotation: Math.PI / 2,
    style: {
      x: 0, y: 0, text: 'Δi/Δi{sub|max}', fill: '#000', font: '16px ' + FONT, lineHeight: 20,
      textAlign: 'center', align: 'center', textVerticalAlign: 'middle', verticalAlign: 'middle',
      rich: { sub: { fontSize: 11, fontFamily: FONT, fill: '#000', lineHeight: 12, verticalAlign: 'bottom' } }
    }
  };
}
function xTitle(cx, cy, size) {
  return {
    type: 'text', z: 101, silent: true,
    style: {
      x: cx, y: cy, text: 'time/L{sup|2} (h mm{sup|-2})', fill: '#000', font: size + 'px ' + FONT, lineHeight: size + 4,
      textAlign: 'center', align: 'center', textVerticalAlign: 'middle', verticalAlign: 'middle',
      rich: { sup: { fontSize: Math.round(size * 0.62), fontFamily: FONT, fill: '#000', lineHeight: 11, verticalAlign: 'top' } }
    }
  };
}

const chart = echarts.init(document.getElementById('chart'), null, { renderer: 'canvas' });
chart.setOption({
  animation: false,
  backgroundColor: '#ffffff',
  grid: [
    { left: 72.7, top: 14.5, width: 546, height: 381.5 },
    { left: 76.3, top: 492, width: 556.5, height: 385 }
  ],
  xAxis: [mainX(0, 9), frameX(0), mainX(1, 11), frameX(1)],
  yAxis: [
    mainY(0),
    { gridIndex: 0, type: 'value', min: 0, max: 1, position: 'right',
      axisLine: { show: true, lineStyle: { color: '#000', width: 1 } },
      axisTick: { show: false }, axisLabel: { show: false }, splitLine: { show: false } },
    mainY(1)
  ],
  series: series,
  graphic: [
    textEl(88, 54.5, 'X65', 21, 'left'),
    box(222, 232, 113, 30), textEl(223, 250, 'Annealed', 21, 'left'),
    box(384, 193, 66, 30), textEl(411, 208, 'Q&T', 21, 'center'),
    box(486, 148, 104, 30), textEl(538.5, 165, 'Quenched', 21, 'center'),
    textEl(96, 533, 'F22', 22, 'left'),
    box(252, 720, 118, 34), textEl(257, 740, 'Annealed', 22, 'left'),
    box(385, 672, 62, 38), textEl(413, 695, 'Q&T', 22, 'center'),
    box(447, 620, 116, 32), textEl(508.5, 637, 'Quenched', 22, 'center'),
    xTitle(346, 428, 17), xTitle(343, 922, 18),
    yTitle(19, 214), yTitle(20, 690)
  ]
});
</script>
</body>
</html>
